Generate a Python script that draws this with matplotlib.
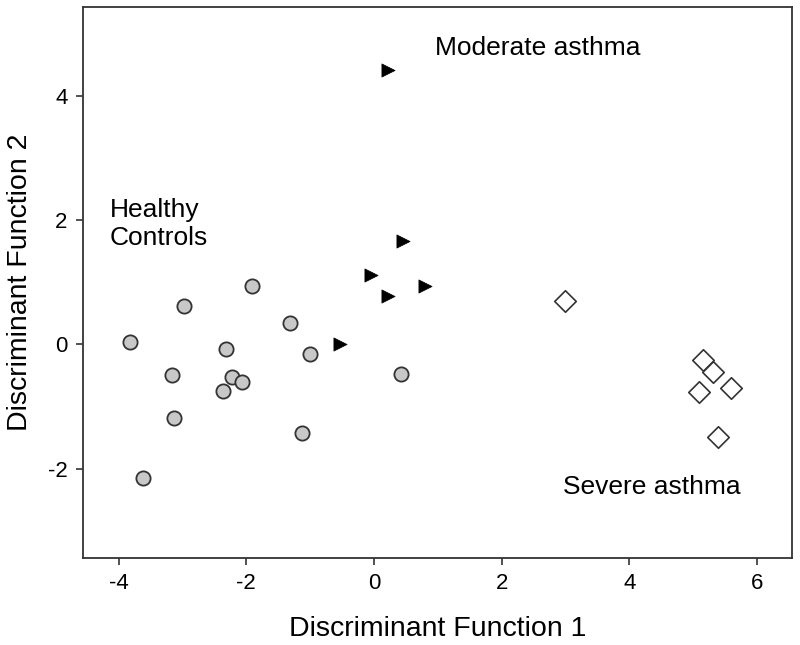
import matplotlib
matplotlib.use("Agg")
import matplotlib.pyplot as plt

plt.rcParams['font.family'] = ['Liberation Sans', 'DejaVu Sans']
plt.rcParams['axes.unicode_minus'] = False

# Healthy controls (grey circles)
healthy_x = [-3.82, -2.98, -1.91, -1.32, -2.32, -1.00, -3.17, -2.23, -2.07, -2.37, -3.13, -1.13, -3.62, 0.42]
healthy_y = [0.04, 0.62, 0.94, 0.34, -0.08, -0.15, -0.50, -0.53, -0.60, -0.75, -1.18, -1.43, -2.15, -0.48]

# Moderate asthma (black right-pointing triangles)
moderate_x = [0.22, 0.46, -0.04, 0.22, 0.80, -0.53]
moderate_y = [4.41, 1.67, 1.11, 0.77, 0.94, 0.00]

# Severe asthma (open diamonds)
severe_x = [3.00, 5.16, 5.31, 5.09, 5.60, 5.39]
severe_y = [0.69, -0.25, -0.44, -0.76, -0.71, -1.49]

x_ticks = [-4, -2, 0, 2, 4, 6]
y_ticks = [-2, 0, 2, 4]

fig = plt.figure(figsize=(8.0, 6.45), dpi=100)
ax = fig.add_axes([83/800, 1-558/645, (792-83)/800, (558-7)/645])

ax.scatter(healthy_x, healthy_y, s=105, marker='o', facecolor='#c8c8c8', edgecolor='#333333', linewidth=1.3, zorder=3)
ax.scatter(moderate_x, moderate_y, s=90, marker='>', facecolor='black', edgecolor='black', linewidth=0.5, zorder=3)
ax.scatter(severe_x, severe_y, s=120, marker='D', facecolor='white', edgecolor='#333333', linewidth=1.2, zorder=3)

ax.set_xlim(-4.56, 6.55)
ax.set_ylim(-3.44, 5.43)
ax.set_xticks(x_ticks)
ax.set_yticks(y_ticks)
ax.tick_params(labelsize=16, length=5, width=1.2, color='#333333', pad=6)

for s in ax.spines.values():
    s.set_color('#333333')
    s.set_linewidth(1.3)

ax.set_xlabel('Discriminant Function 1', fontsize=20.5, labelpad=16)
ax.set_ylabel('Discriminant Function 2', fontsize=20.5, labelpad=11)

ax.text(-4.14, 2.35, 'Healthy\nControls', fontsize=19, ha='left', va='top', linespacing=1.2)
ax.text(0.96, 4.77, 'Moderate asthma', fontsize=19, ha='left', va='center')
ax.text(2.96, -2.29, 'Severe asthma', fontsize=19, ha='left', va='center')

fig.savefig('out.png', dpi=100)
